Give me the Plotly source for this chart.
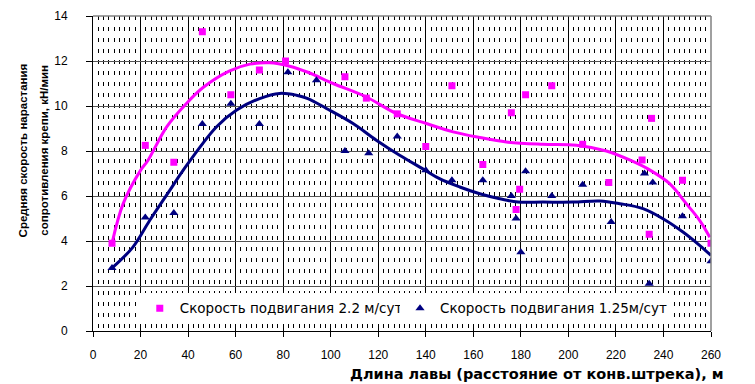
import plotly.graph_objects as go

# Scatter points, series "2.2 м/сут"
x_22 = [8, 22, 34, 46, 58, 70, 81, 106, 115, 128, 140, 151, 164, 176, 178, 179.5, 182, 193, 206, 217, 231, 234, 235, 248, 260]
y_22 = [3.9, 8.25, 7.5, 13.3, 10.5, 11.6, 12.0, 11.3, 10.35, 9.65, 8.2, 10.9, 7.4, 9.7, 5.4, 6.3, 10.5, 10.9, 8.3, 6.6, 7.6, 4.3, 9.45, 6.7, 3.9]

# Scatter points, series "1.25 м/сут"
x_125 = [8, 22, 34, 46, 58, 70, 82, 94, 106, 116, 128, 140, 151, 164, 176, 178, 180, 182, 193, 206, 218, 232, 234, 235.5, 248, 260]
y_125 = [2.8, 5.05, 5.25, 9.2, 10.1, 9.2, 11.5, 11.15, 8.0, 7.9, 8.65, 7.15, 6.7, 6.7, 6.0, 5.0, 3.5, 7.1, 6.0, 6.5, 4.85, 7.0, 2.1, 6.6, 5.1, 3.1]

# Trend curves
cx_22 = [8, 12.7, 20, 23.1, 31, 39.3, 46.3, 57.5, 66, 74.3, 82.7, 90.4, 101, 115, 127.6, 140.3, 151.5, 162.7, 173.9, 189.3, 203.4, 216, 226, 234.5, 242.6, 249.6, 255.2, 259.5]
cy_22 = [3.9, 5.66, 7.14, 7.58, 9.07, 10.11, 10.82, 11.56, 11.86, 11.92, 11.77, 11.5, 11.0, 10.4, 9.67, 9.22, 8.85, 8.6, 8.4, 8.3, 8.26, 8.0, 7.59, 7.14, 6.55, 5.66, 4.92, 4.17]

cx_125 = [7.7, 16.8, 23.9, 32.3, 37.9, 51.9, 60.3, 70.1, 78.5, 85.6, 90.4, 98.2, 109.4, 119.2, 129, 139.2, 145.8, 154.3, 162.7, 171.1, 178.8, 189.3, 202, 213.2, 221.6, 231.4, 239.8, 248.2, 255.2, 260]
cy_125 = [2.77, 3.73, 4.92, 6.25, 7.14, 9.07, 9.81, 10.33, 10.56, 10.48, 10.33, 9.89, 9.22, 8.48, 7.81, 7.18, 6.77, 6.4, 6.1, 5.88, 5.73, 5.73, 5.73, 5.78, 5.66, 5.44, 4.99, 4.4, 3.81, 3.36]

x_ticks = list(range(0, 261, 20))
y_ticks = list(range(0, 15, 2))

y_title_lines = ["Средняя скорость нарастания", "сопротивления крепи, кН/мин"]
x_title = "Длина лавы (расстояние от конв.штрека), м"

MAG = "#FF00FF"
NAVY = "#000080"
FONT = "Liberation Sans, Arial, sans-serif"
WIDE = "DejaVu Sans, Verdana, sans-serif"

fig = go.Figure()
fig.add_trace(go.Scatter(x=cx_22, y=cy_22, mode="lines", line=dict(color=MAG, width=3, shape="spline"),
                         showlegend=False, hoverinfo="skip"))
fig.add_trace(go.Scatter(x=cx_125, y=cy_125, mode="lines", line=dict(color=NAVY, width=3, shape="spline"),
                         showlegend=False, hoverinfo="skip"))
fig.add_trace(go.Scatter(x=x_22, y=y_22, mode="markers", name="Скорость подвигания 2.2 м/сут",
                         marker=dict(symbol="square", color=MAG, size=7, line=dict(width=0)),
                         legend="legend"))
fig.add_trace(go.Scatter(x=x_125, y=y_125, mode="markers", name="Скорость подвигания 1.25м/сут",
                         marker=dict(symbol="triangle-up", color=NAVY, size=8, line=dict(width=0)),
                         legend="legend2"))

legend_common = dict(orientation="h", xanchor="left", yanchor="top", bgcolor="white", borderwidth=0,
                     font=dict(size=13.5, family=WIDE), itemwidth=30)

# page body has an 8px margin: figure is 747x376 placed at (8, 8)
fig.update_layout(
    width=747, height=376,
    margin=dict(l=85, r=44, t=8, b=53, autoexpand=False),
    paper_bgcolor="white", plot_bgcolor="white",
    font=dict(family=FONT, size=12, color="black"),
    legend=dict(x=0.0757, y=0.121, **legend_common),
    legend2=dict(x=0.4968, y=0.121, **legend_common),
    xaxis=dict(range=[0, 260], tickvals=x_ticks, ticks="outside", ticklen=5, tickcolor="black",
               showline=True, linecolor="black", linewidth=1, automargin=False,
               showgrid=True, gridcolor="black", gridwidth=1, zeroline=False,
               ticklabelstandoff=8, tickfont=dict(size=12),
               minor=dict(dtick=20/9, showgrid=True, gridcolor="black", gridwidth=1, griddash="4px,7px", ticklen=0)),
    yaxis=dict(range=[0, 14], tickvals=y_ticks, ticks="outside", ticklen=6, tickcolor="black",
               showline=True, linecolor="black", linewidth=1, automargin=False,
               showgrid=True, gridcolor="#555555", gridwidth=1, zeroline=False,
               ticklabelstandoff=16, tickfont=dict(size=12)),
    shapes=[
        dict(type="line", xref="paper", yref="paper", x0=0, x1=1, y0=1, y1=1, line=dict(color="#808080", width=1.5)),
        dict(type="line", xref="paper", yref="paper", x0=1, x1=1, y0=0, y1=1, line=dict(color="#808080", width=1.5)),
    ],
    annotations=[
        dict(text="<b>" + y_title_lines[0] + "</b>", xref="paper", yref="paper", x=-0.1134, y=0.573,
             xanchor="center", yanchor="middle", textangle=-90, showarrow=False,
             font=dict(family=FONT, size=11.5)),
        dict(text="<b>" + y_title_lines[1] + "</b>", xref="paper", yref="paper", x=-0.0807, y=0.573,
             xanchor="center", yanchor="middle", textangle=-90, showarrow=False,
             font=dict(family=FONT, size=11.5)),
        dict(text="<b>" + x_title + "</b>", xref="paper", yref="paper", x=0.718, y=-0.136,
             xanchor="center", yanchor="middle", showarrow=False,
             font=dict(family=WIDE, size=14.5)),
    ],
)

fig.write_html("out.html")
